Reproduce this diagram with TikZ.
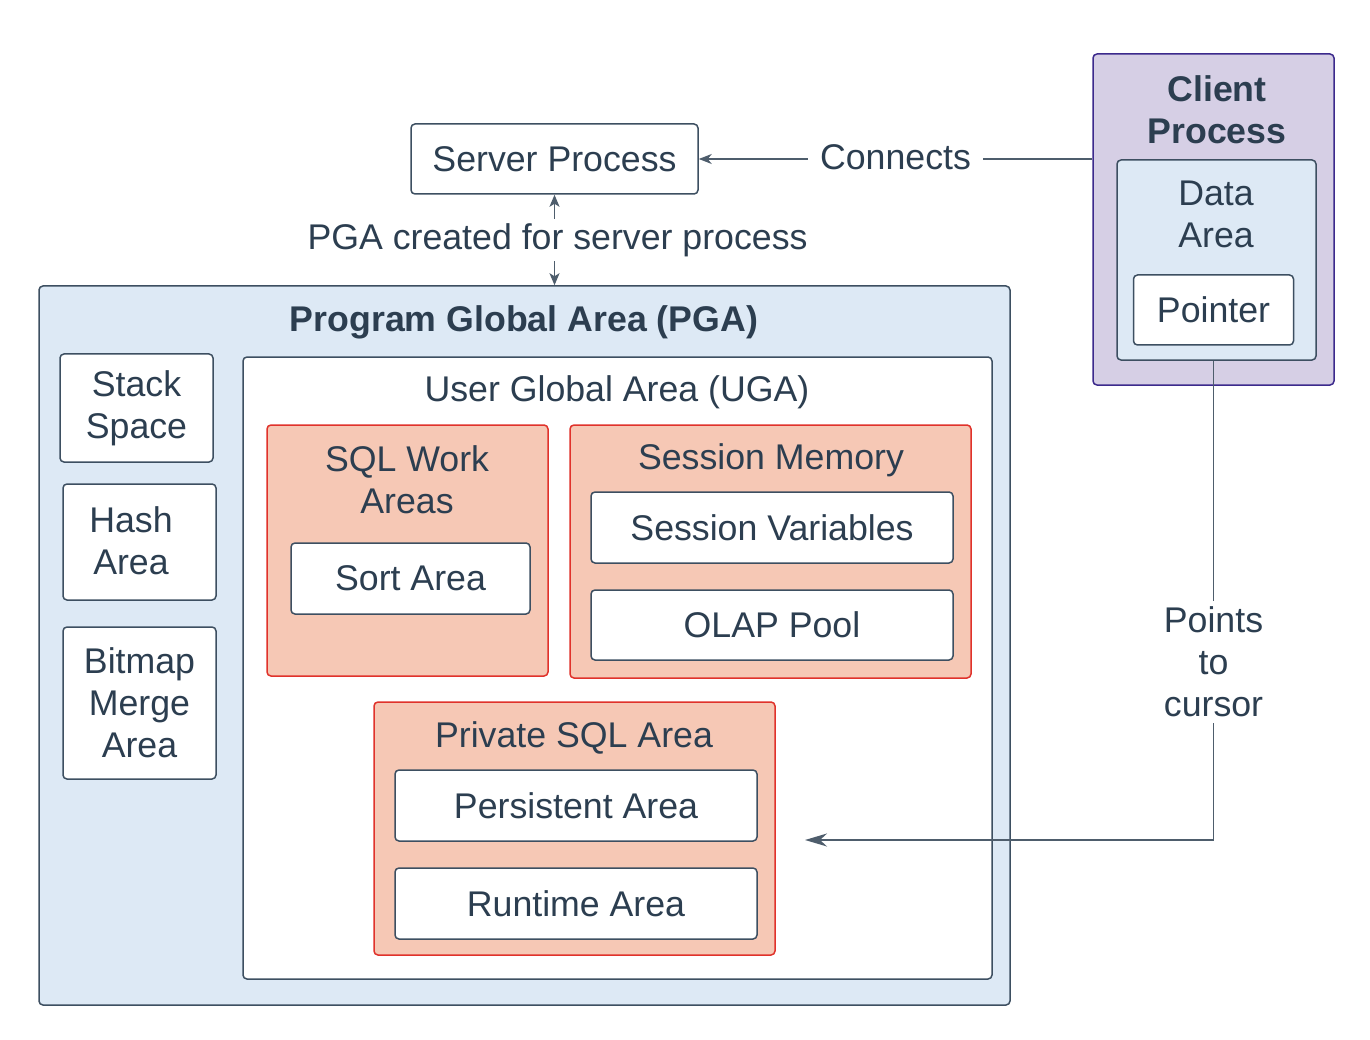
\documentclass[tikz,border=0pt]{standalone}
\usepackage{fontspec}
\setmainfont{Liberation Sans}
\usetikzlibrary{arrows.meta}
\definecolor{txt}{HTML}{2C3E50}
\definecolor{bord}{HTML}{3D4F61}
\definecolor{lnc}{HTML}{4E5D6C}
\definecolor{pgafill}{HTML}{DDE9F5}
\definecolor{clfill}{HTML}{D6CFE5}
\definecolor{clbord}{HTML}{3C2A8C}
\definecolor{salfill}{HTML}{F6C8B5}
\definecolor{salbord}{HTML}{E0322B}
\tikzset{
  fnt/.style={font=\fontsize{35.7}{42}\selectfont, text=txt},
  box/.style={draw=bord, line width=1.5pt, rounded corners=4pt, inner sep=0pt, fnt, align=center, fill=white},
  pgabox/.style={box, fill=pgafill},
  clbox/.style={box, draw=clbord, fill=clfill},
  salbox/.style={box, draw=salbord, fill=salfill},
  lbl/.style={fnt, align=center, inner sep=0pt},
  conn/.style={draw=lnc, line width=1.6pt},
}
\begin{document}
\begin{tikzpicture}[x=1pt,y=-1pt]
\useasboundingbox (0,0) rectangle (1370,1040);
% Server process
\node[box, minimum width=287, minimum height=70] (server) at (554.5,159) {Server Process};
% Client process
\node[clbox, minimum width=241, minimum height=331] (client) at (1213.5,219.5) {};
\node[lbl, font=\fontsize{35.7}{42}\selectfont\bfseries] (clientT) at (1217,109.5) {Client\\Process};
\node[pgabox, minimum width=199, minimum height=200] (data) at (1216.5,260) {};
\node[lbl] (dataT) at (1216,214.5) {Data\\Area};
\node[box, minimum width=160, minimum height=70] (pointer) at (1213.5,310) {Pointer};
% PGA
\node[pgabox, minimum width=971, minimum height=719] (pga) at (524.5,645.5) {};
\node[lbl, font=\fontsize{35.7}{42}\selectfont\bfseries] (pgaT) at (524,322) {Program Global Area (PGA)};
\node[box, minimum width=153, minimum height=108] (stack) at (136.5,408) {Stack\\Space};
\node[box, minimum width=153, minimum height=116] (hash) at (139.5,542) {};
\node[lbl] (hashT) at (131,540.5) {Hash\\Area};
\node[box, minimum width=153, minimum height=152] (bitmap) at (139.5,703) {Bitmap\\Merge\\Area};
% UGA
\node[box, minimum width=749, minimum height=622] (uga) at (617.5,668) {};
\node[lbl] (ugaT) at (617,392) {User Global Area (UGA)};
\node[salbox, minimum width=281, minimum height=251] (sqlw) at (407.5,550.5) {};
\node[lbl] (sqlwT) at (407,480) {SQL Work\\Areas};
\node[box, minimum width=239, minimum height=71] (sort) at (410.5,578.5) {Sort Area};
\node[salbox, minimum width=401, minimum height=253] (sess) at (770.5,551.5) {};
\node[lbl] (sessT) at (771,460) {Session Memory};
\node[box, minimum width=362, minimum height=71] (sessvar) at (772,527.5) {Session Variables};
\node[box, minimum width=362, minimum height=70] (olap) at (772,625) {OLAP Pool};
\node[salbox, minimum width=401, minimum height=253] (priv) at (574.5,828.5) {};
\node[lbl] (privT) at (574,738) {Private SQL Area};
\node[box, minimum width=362, minimum height=71] (pers) at (576,805.5) {Persistent Area};
\node[box, minimum width=362, minimum height=71] (runt) at (576,903.5) {Runtime Area};
% connectors
\draw[conn, -{Stealth[length=13pt,width=10pt,inset=4pt]}] (server.east -| client.west) -- node[lbl, fill=white, inner xsep=12pt, inner ysep=4pt, yshift=2pt] (connT) {Connects} (server.east);
\draw[conn, {Stealth[length=12pt,width=10pt,inset=3pt]}-{Stealth[length=12pt,width=10pt,inset=3pt]}] (server.south) -- node[lbl, fill=white, inner ysep=4pt, xshift=3pt] (pgaArrT) {PGA created for server process} (server.south |- pga.north);
\coordinate (ptrEnd) at (805,840);
\draw[conn, -{Stealth[length=22pt,width=13pt,inset=7pt]}] (data.south -| pointer.south) |- node[pos=0.314, lbl, fill=white, inner ysep=6pt, inner xsep=4pt] (ptrT) {Points\\to\\cursor} (ptrEnd);
\end{tikzpicture}
\end{document}
